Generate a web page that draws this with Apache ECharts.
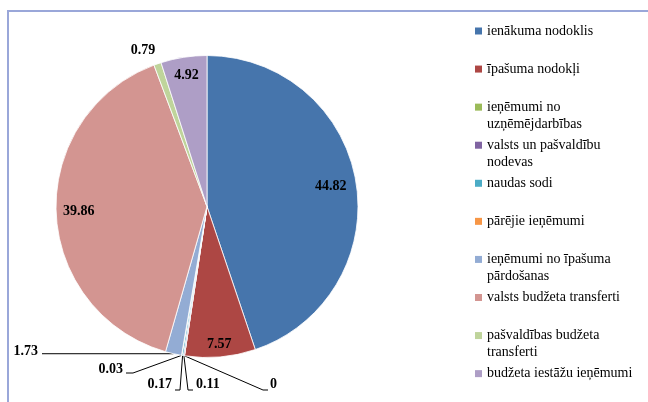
<!DOCTYPE html>
<html><head><meta charset="utf-8">
<script src="https://cdn.jsdelivr.net/npm/echarts@6/dist/echarts.min.js"></script>
<style>
html,body{margin:0;padding:0;background:#fff;overflow:hidden;}
#frame{position:absolute;left:7px;top:10px;width:700px;height:500px;border-left:2px solid #9AA7D9;border-top:2px solid #9AA7D9;}
#main{position:absolute;left:0;top:0;width:648px;height:402px;}
</style></head><body>
<div id="frame"></div><div id="main"></div>
<script>
// ---- data ----
const categories = [
  'ienākuma nodoklis',
  'īpašuma nodokļi',
  'ieņēmumi no uzņēmējdarbības',
  'valsts un pašvaldību nodevas',
  'naudas sodi',
  'pārējie ieņēmumi',
  'ieņēmumi no īpašuma pārdošanas',
  'valsts budžeta transferti',
  'pašvaldības budžeta transferti',
  'budžeta iestāžu ieņēmumi'
];
const values = [44.82, 7.57, 0, 0.11, 0.17, 0.03, 1.73, 39.86, 0.79, 4.92];
const legendText = [
  'ienākuma nodoklis',
  'īpašuma nodokļi',
  'ieņēmumi no\nuzņēmējdarbības',
  'valsts un pašvaldību\nnodevas',
  'naudas sodi',
  'pārējie ieņēmumi',
  'ieņēmumi no īpašuma\npārdošanas',
  'valsts budžeta transferti',
  'pašvaldības budžeta\ntransferti',
  'budžeta iestāžu ieņēmumi'
];
const colors = ['#4675AC','#AD4744','#9BBB59','#8064A2','#4BACC6','#F79646','#93ACD4','#D39591','#BFD49B','#AE9EC6'];

// ---- layout ----
const CX = 207, CY = 206.5, R = 151;
const insideFactor = {0: 0.83, 1: 0.92, 7: 0.85, 9: 0.88};
const callouts = {
  6: {x: 38, y: 351, align: 'right', line: p => [p, [42, p[1]]]},
  5: {x: 123, y: 369.5, align: 'right', line: p => [p, [133, 373], [126, 373]]},
  4: {x: 172, y: 384.5, align: 'right', line: p => [p, [180, 390], [175, 390]]},
  3: {x: 196, y: 384.5, align: 'left', line: p => [p, [188, 390], [193, 390]]},
  2: {x: 270, y: 384.5, align: 'left', line: p => [p, [263, 390], [268, 390]]},
  8: {x: 143, y: 50, align: 'center'}
};
const total = values.reduce((a, b) => a + b, 0);

const chart = echarts.init(document.getElementById('main'), null, {renderer: 'canvas'});
const data = categories.map((name, i) => ({
  name, value: values[i],
  itemStyle: {color: colors[i]},
  labelLine: {show: !!(callouts[i] && callouts[i].line)}
}));

chart.setOption({
  backgroundColor: 'transparent',
  animation: false,
  legend: categories.map((name, i) => {
    const two = legendText[i].indexOf('\n') >= 0;
    const c = 31 + i * 38.07;
    return {
      data: [name], orient: 'vertical', left: 475, top: c - (two ? 25.5 : 8.5),
      padding: 0, itemWidth: 7, itemHeight: 7, itemGap: 0, icon: 'rect', selectedMode: false,
      itemStyle: {borderWidth: 0},
      formatter: () => (two ? ' \n' : '') + legendText[i],
      textStyle: {fontFamily: 'Liberation Serif', fontSize: 14, lineHeight: 17, color: '#000'}
    };
  }),
  series: [{
    type: 'pie',
    center: [CX, CY], radius: R,
    startAngle: 90, clockwise: true,
    avoidLabelOverlap: false,
    itemStyle: {borderColor: '#fff', borderWidth: 0.8},
    label: {show: true, position: 'outside', formatter: p => String(p.value),
      fontFamily: 'Liberation Serif', fontSize: 14, fontWeight: 'bold', color: '#000'},
    labelLine: {show: true, length: 10, length2: 10, lineStyle: {color: '#000', width: 1}},
    emphasis: {disabled: true},
    labelLayout: function (params) {
      const i = params.dataIndex;
      if (insideFactor[i] != null) {
        let cum = 0;
        for (let k = 0; k < i; k++) cum += values[k];
        const a = (cum + values[i] / 2) / total * Math.PI * 2;
        const f = insideFactor[i];
        return {x: CX + f * R * Math.sin(a), y: CY - f * R * Math.cos(a), align: 'center', verticalAlign: 'middle'};
      }
      const c = callouts[i];
      if (!c) return {};
      const out = {x: c.x, y: c.y, align: c.align, verticalAlign: 'middle'};
      if (c.line && params.labelLinePoints) out.labelLinePoints = c.line(params.labelLinePoints[0]);
      return out;
    },
    data
  }]
});
</script>
</body></html>
